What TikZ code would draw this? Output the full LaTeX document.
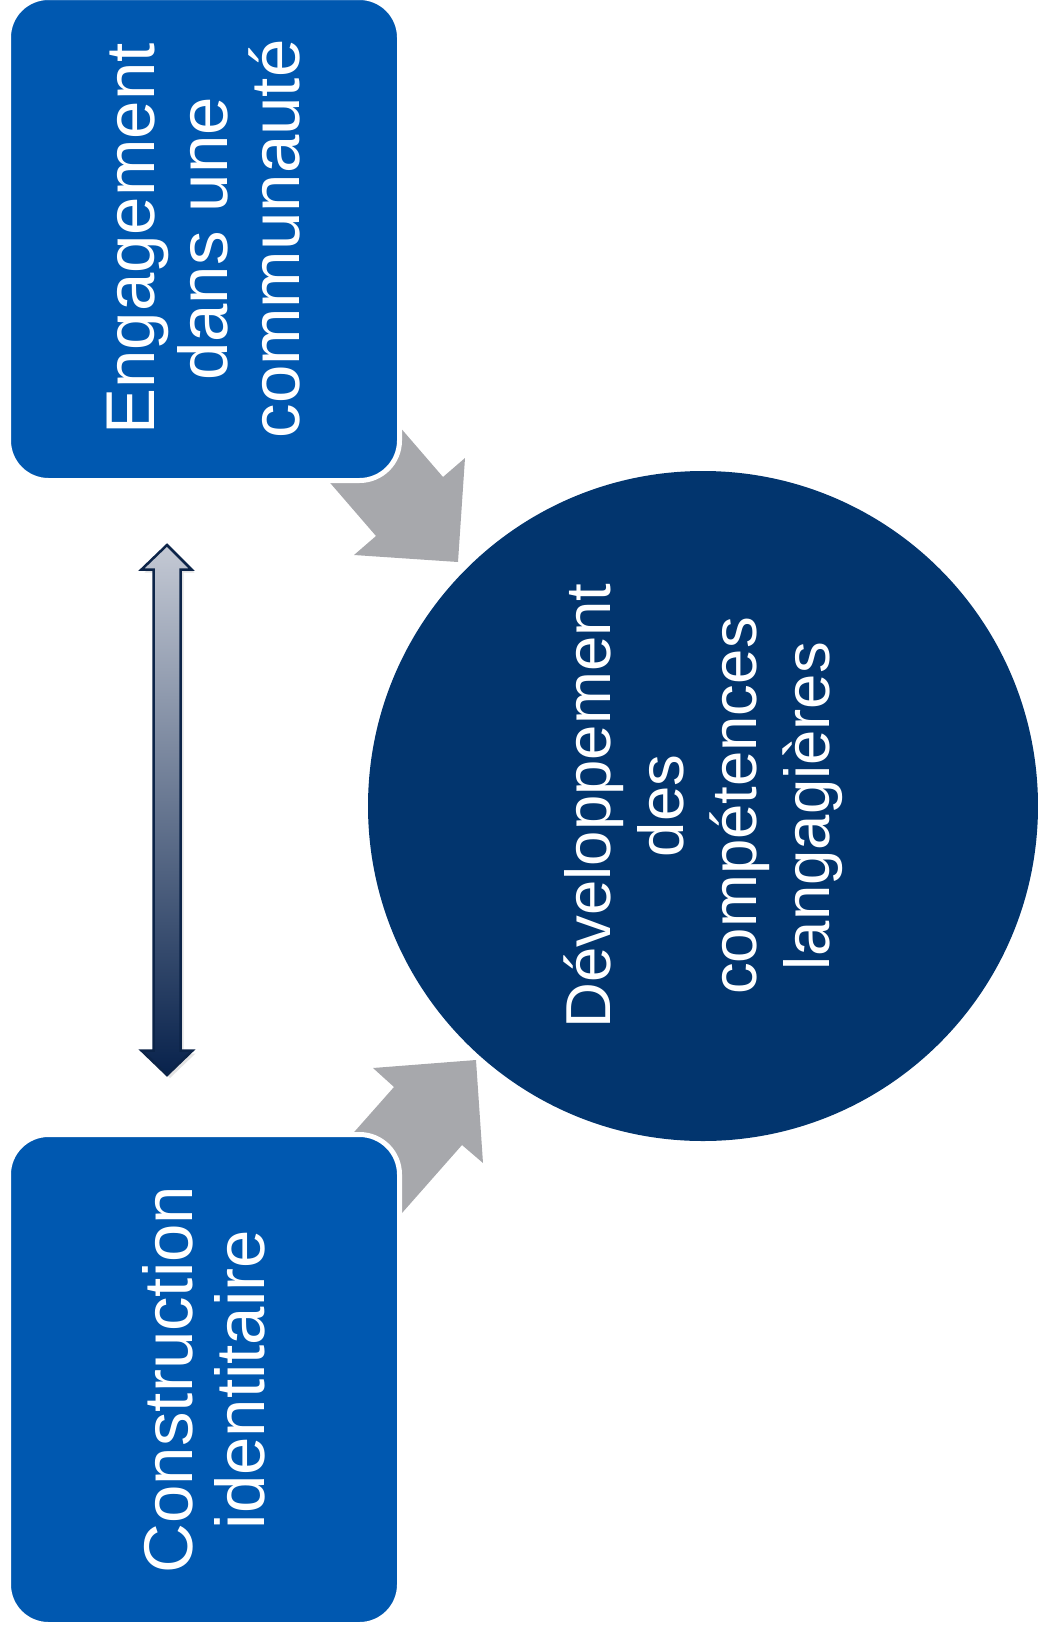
\documentclass[tikz,border=0pt]{standalone}
\usepackage{fontspec}
\setmainfont{Liberation Sans}
\usetikzlibrary{shadows}
\definecolor{boxblue}{RGB}{0,88,176}
\definecolor{hubnavy}{RGB}{2,53,110}
\definecolor{arrowgray}{RGB}{167,168,172}
\definecolor{linkline}{RGB}{12,36,72}
\definecolor{linktop}{RGB}{196,201,212}
\definecolor{linkbot}{RGB}{8,34,76}
\begin{document}
\begin{tikzpicture}[x=1pt,y=-1pt,
  box/.style={rectangle, rounded corners=40pt, fill=boxblue, draw=white,
    line width=5pt, inner sep=0pt, rotate=90, text=white, align=center,
    font=\fontsize{69}{72.5}\selectfont},
  hub/.style={circle, fill=hubnavy, inner sep=0pt, minimum size=670pt,
    text=white, align=center, rotate=90, font=\fontsize{63.5}{73}\selectfont},
  blockarrow/.style={fill=arrowgray},
  linkarrow/.style={draw=linkline, line width=2.5pt, top color=linktop,
    bottom color=linkbot,
    drop shadow={shadow xshift=3pt, shadow yshift=-3pt, opacity=0.22}}]
\useasboundingbox (0,0) rectangle (1038,1631);

% grey block arrows (drawn first, tails hidden under the boxes)
\fill[blockarrow] (291,437.6) -- (376,536) -- (354,555) -- (458,562)
  -- (465,458) -- (443,477) -- (358,378.6) -- cycle;
\fill[blockarrow] (321,1169.5) -- (394,1087) -- (373,1068) -- (476,1060)
  -- (483,1163) -- (462,1145) -- (376,1242.5) -- cycle;

% boxes and circle
\node[box, minimum width=483pt, minimum height=391pt] (engage) at (204,239)
  {Engagement\\dans une\\communauté};
\node[box, minimum width=490pt, minimum height=391pt] (identity) at (204,1379.5)
  {Construction\\identitaire};
\node[hub] (skills) at (703,806)
  {Développement\\des\\compétences\\langagières};

% double-headed link arrow
\path[linkarrow] (167,545) -- (191.5,569.5) -- (180.5,569.5) -- (180.5,1050.5)
  -- (192.5,1050.5) -- (167,1075) -- (141.5,1050.5) -- (153.5,1050.5)
  -- (153.5,569.5) -- (141.5,569.5) -- cycle;
\end{tikzpicture}
\end{document}
